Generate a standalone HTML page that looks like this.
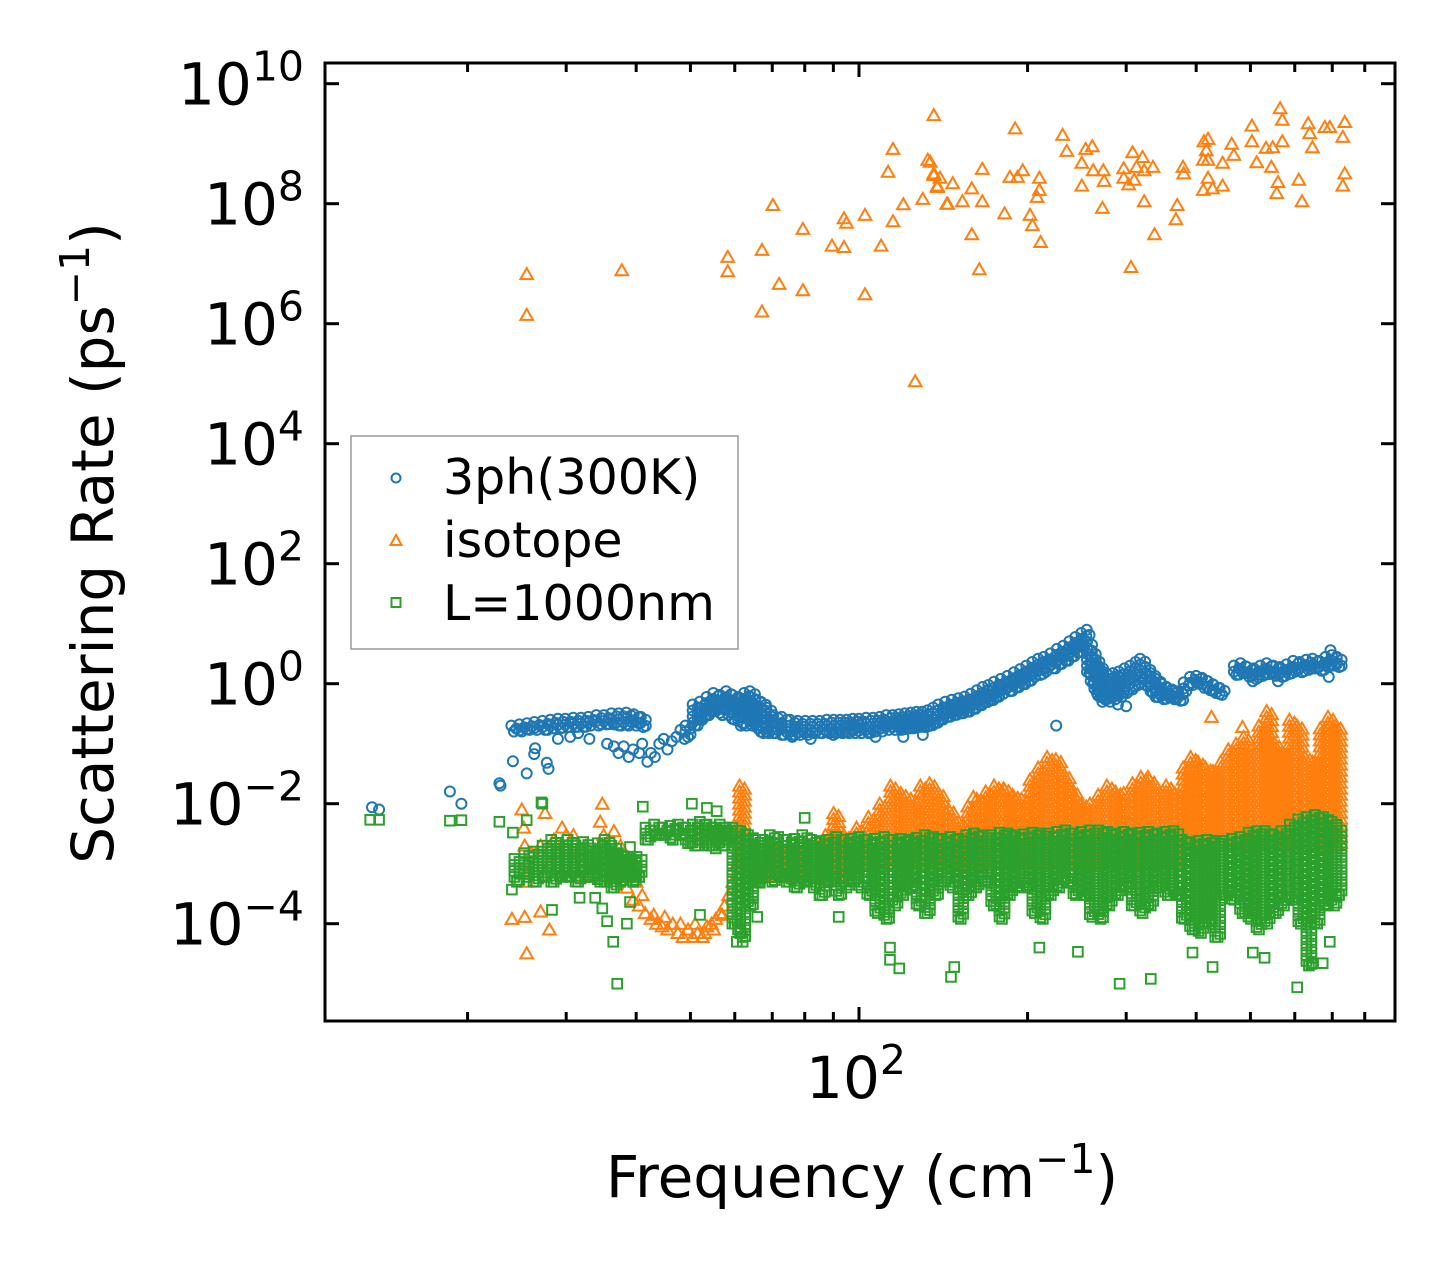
<!DOCTYPE html>
<html><head><meta charset="utf-8"><style>
html,body{margin:0;padding:0;background:#fff;}
svg{display:block;font-family:"DejaVu Sans","Liberation Sans",sans-serif;}
</style></head><body>
<svg id="chart" width="1455" height="1270" viewBox="0 0 1455 1270" xmlns="http://www.w3.org/2000/svg">
<rect x="0" y="0" width="1455" height="1270" fill="#fff"/>
<defs><clipPath id="plotclip"><rect x="325" y="63" width="1070" height="958"/></clipPath></defs>
<g id="blueLayer" clip-path="url(#plotclip)"></g>
<g id="orangeLayer" clip-path="url(#plotclip)"></g>
<g id="greenLayer" clip-path="url(#plotclip)"></g>
<g id="axes"></g>
<rect x="325" y="63" width="1070" height="958" fill="none" stroke="#000" stroke-width="3"/>
<text transform="translate(113,543) rotate(-90)" text-anchor="middle" font-size="58">Scattering Rate (ps<tspan dy="-24" font-size="41">−1</tspan><tspan dy="24">)</tspan></text>
<text x="862" y="1197" text-anchor="middle" font-size="58">Frequency (cm<tspan dy="-24" font-size="41">−1</tspan><tspan dy="24">)</tspan></text>
<g>
<rect x="351" y="436" width="387" height="213" fill="#fff" stroke="#999" stroke-width="1.5"/>
<circle cx="396" cy="478" r="4.5" fill="none" stroke="#1f77b4" stroke-width="2"/>
<text x="443" y="494" font-size="49">3ph(300K)</text>
<path d="M396,535 L401.5,545 L390.5,545 Z" fill="none" stroke="#ff7f0e" stroke-width="2"/>
<text x="443" y="557" font-size="49">isotope</text>
<rect x="391.5" y="598" width="9" height="9" fill="none" stroke="#2ca02c" stroke-width="2"/>
<text x="443" y="620" font-size="49">L=1000nm</text>
</g>
</svg>
<script>
// ---------- data ----------
const yTickExps = [-4, -2, 0, 2, 4, 6, 8, 10];
const xMajorTicks = [100];
const xMinorTicks = [20,30,40,50,60,70,80,90,200,300,400,500,600,700,800];

// 3ph isolated points
const blueFreq = [13.5,13.9,18.6,19.5,22.8,22.9,24.1,25.5,26.3,26.4,27.7,27.9,29,30.5,33,31.5,
 35.5,36.5,37.2,38,38.8,39.5,40.5,41,41.9,42.5,43.2,44,44.8,45.5,46.3,47.2,48,48.8,
 120,130,107,225,255,258,300,272,290,695,690,560,505,76,82,90];
const blueRate = [8.7e-3,8e-3,1.6e-2,1e-2,2.2e-2,2e-2,5.1e-2,3.2e-2,6.7e-2,8.4e-2,4.8e-2,3.8e-2,0.12,0.13,0.12,0.15,
 0.1,0.09,0.07,0.09,0.06,0.08,0.07,0.1,0.05,0.07,0.06,0.1,0.12,0.08,0.11,0.13,0.17,0.12,
 0.13,0.14,0.13,0.2,7.9,6.5,0.42,0.5,0.45,3.6,1.3,1.1,1.1,0.13,0.12,0.14];
// 3ph dense band (columns)
const blueBandFreq = [24.2,25,25.8,26.6,27.5,28.4,29.3,30.2,31.2,32.2,33.2,34.3,35.4,36.5,37.6,38.8,40,41.2,
 49.5,51,52.5,54,55.5,57,58.5,60,61.5,63,64.5,66,67.5,69,
 71,73.5,76,78.5,81,83.5,86,88.5,91,93.5,96,98.5,
 101,104,107,110,113,116,119,122,125,128,131,134,137,140,144,148,152,156,160,164,168,172,176,181,186,191,196,201,206,211,216,222,228,234,240,246,252,
 258,262,266,270,275,281,287,294,301,308,315,321,328,335,342,350,
 358,366,375,384,394,404,414,424,434,445,
 472,485,498,512,526,540,555,570,586,602,618,635,652,670,688,706,720];
const blueBandLow = [.16,.16,.17,.17,.17,.18,.18,.19,.19,.19,.2,.2,.21,.21,.2,.2,.2,.19,
 .13,.2,.25,.3,.35,.3,.3,.25,.2,.2,.2,.18,.15,.15,
 .15,.14,.14,.14,.14,.15,.15,.15,.15,.15,.15,.15,
 .15,.15,.16,.16,.17,.17,.17,.18,.18,.19,.19,.2,.22,.25,.28,.3,.32,.34,.38,.44,.49,.53,.6,.68,.75,.86,.98,1.1,1.3,1.4,1.6,1.8,2.1,2.4,2.8,3.3,4.0,
 1.5,1.0,.7,.6,.55,.5,.55,.6,.7,.8,.95,1.2,.9,.7,.6,.55,
 .6,.55,.52,.75,.95,1.0,.85,.78,.7,.65,
 1.4,1.5,1.3,1.2,1.35,1.45,1.35,1.3,1.45,1.6,1.55,1.7,1.8,1.65,1.9,2.0,1.9];
const blueBandHigh = [.2,.21,.22,.23,.24,.25,.26,.26,.27,.27,.28,.3,.3,.32,.32,.33,.31,.28,
 .2,.45,.5,.6,.7,.65,.75,.65,.6,.7,.75,.55,.5,.4,
 .3,.28,.25,.24,.24,.24,.24,.25,.25,.25,.25,.26,
 .26,.27,.27,.28,.3,.3,.31,.32,.33,.34,.34,.36,.4,.45,.5,.54,.57,.61,.68,.78,.88,.95,1.08,1.2,1.35,1.55,1.75,2.0,2.3,2.6,2.8,3.2,3.8,4.3,5.1,6.0,7.0,
 5.0,3.5,2.6,2.0,1.6,1.4,1.5,1.6,1.8,2.0,2.3,2.6,1.9,1.5,1.2,1.0,
 .85,.8,.75,1.05,1.3,1.35,1.25,1.1,.95,.85,
 2.0,2.2,1.9,1.8,2.0,2.2,2.0,1.9,2.1,2.4,2.3,2.5,2.6,2.4,2.8,3.0,2.8];

// isotope isolated points
const orangeFreq = [25.5,25.5,37.7,58.3,58.3,67.1,67.1,70.2,72,79.4,79.4,89.5,94,95,94,102.5,102.5,109.5,112.7,115,115,120,126,130,132.7,136,136,138,139.5,143.5,
 134,136,138,144,147,153,159,166,166,159,164,182,186,190,192,196,202,204,210,210,208,211,231,235,250,254,261,250,262,273,274,272,
 297,297,303,308,321,313,323,335,310,323,306,337,370,368,379,380,413,420,417,412,420,412,420,428,446,446,463,467,503,503,513,533,548,545,560,557,565,570,570,618,610,634,638,645,679,693,731,737,737,731,
 25,25.2,25.3,25.4,25.5,25.3,25.5,28,27,24,
 26,27,28,29,30,30.9,31.5,32.5,33.5,34.8,34.5,35,36,37,37.5,38,39,40,41,27.5,29.5,28.5,31.8,33,36.5,38.5,39.5,40.5,41.5,42.5,43.5,44.5,45.5,46.5,47.5,48.5,49.5,50.5,51.5,52.5,53.5,54.5,55.5,56.5,57.5,58.5,59.5,60.5,
 45,48,51,53,55,57,43,426,484,328,160,182];
const orangeRate = [6.7e6,1.4e6,7.8e6,1.3e7,7.5e6,1.7e7,1.6e6,9.5e7,4.6e6,3.8e7,3.6e6,2e7,5.7e7,4.8e7,1.9e7,6.5e7,3.1e6,2e7,3.4e8,8.2e8,5.1e7,9.8e7,1.1e5,1.2e8,5.4e8,3e9,3e8,2e8,2.7e8,1e8,
 5e8,3.2e8,1.9e8,1e8,2.2e8,1.1e8,1.8e8,3.8e8,1.1e8,3.1e7,8.1e6,6.9e7,2.8e8,1.8e9,2.8e8,3.6e8,6.5e7,4.4e7,2.7e8,1.7e8,1.3e8,2.3e7,1.4e9,7.6e8,4.8e8,8.2e8,9.1e8,2e8,3.6e8,3.6e8,2.4e8,8.5e7,
 3.9e8,2.7e8,2.1e8,7.2e8,6e8,4.1e8,3.6e8,4.1e8,2.5e8,1.1e8,8.8e6,3.1e7,9.5e7,5.5e7,4.1e8,3.2e8,1.1e9,1.2e9,7.8e8,5.4e8,5.4e8,1.7e8,2.7e8,1.8e8,4.8e8,2e8,1e9,6.5e8,2e9,1.1e9,4.9e8,8.5e8,8.7e8,4.1e8,2.3e8,1.5e8,3.9e9,2.5e9,1.1e9,1.1e8,2.5e8,2.2e9,1.5e9,8.7e8,1.9e9,1.9e9,1.3e9,2.3e9,3.2e8,2e8,
 8e-3,4e-3,2e-3,1e-3,5e-4,1.3e-4,3.2e-5,8e-5,1.6e-4,1.2e-4,
 1.5e-3,2e-3,1e-3,1.5e-3,3e-3,3e-3,1.5e-3,2e-3,1e-3,1e-2,5e-3,3e-3,1.5e-3,6e-4,2e-3,1e-3,7e-4,5e-4,3e-4,7e-3,4e-3,2.5e-3,6e-4,8e-4,3.5e-3,4e-4,2.5e-4,2e-4,1.5e-4,1.2e-4,1e-4,9e-5,8e-5,1e-4,7e-5,6e-5,8e-5,6e-5,7e-5,6e-5,9e-5,1e-4,1.2e-4,1.5e-4,2e-4,3e-4,5e-4,1e-3,
 1.3e-4,1e-4,1e-4,7e-5,8e-5,1.4e-4,1.4e-4,0.28,0.19,0.028,0.013,0.017];
// isotope dense band (columns)
const orangeBandFreq = [61.8,64,67,70,73,76,79,82,85,88,91,95,100,105,110,115,120,125,130,135,140,146,152,158,164,170,176,183,190,197,204,211,219,227,235,243,252,261,270,280,290,300,311,322,333,345,357,370,383,395,407,420,433,447,461,476,491,507,523,540,557,575,593,612,632,652,673,695,717];
const orangeBandTop = [2e-2,2e-3,1.5e-3,2e-3,1.8e-3,2e-3,1.5e-3,2e-3,2e-3,3e-3,7e-3,3e-3,4e-3,6e-3,1e-2,2e-2,1.5e-2,1.2e-2,2e-2,2.2e-2,1.5e-2,8e-3,5e-3,9e-3,1.2e-2,1.6e-2,2e-2,1.8e-2,1.4e-2,1.2e-2,2.5e-2,4e-2,6e-2,5.5e-2,3e-2,1.6e-2,1e-2,1e-2,1.4e-2,2e-2,1.6e-2,1.5e-2,2.2e-2,2.8e-2,2.5e-2,1.8e-2,2e-2,1.5e-2,4e-2,6e-2,5e-2,4e-2,3.5e-2,5e-2,8e-2,1e-1,1.3e-1,8e-2,2e-1,3.5e-1,1e-1,7e-2,2.5e-1,2e-1,6e-2,5e-2,1.8e-1,2.8e-1,2e-1];
const orangeBandLow = [1e-3,6e-4,6e-4,6e-4,6e-4,6e-4,6e-4,6e-4,6e-4,6e-4,6e-4,8e-4,1e-3,1e-3,1e-3,1e-3,1e-3,1e-3,1e-3,1e-3,1e-3,1e-3,1e-3,1e-3,1e-3,1e-3,1e-3,1e-3,1e-3,1e-3,1e-3,1e-3,1e-3,1e-3,1e-3,1e-3,1e-3,1e-3,1e-3,1e-3,1e-3,1e-3,1e-3,1e-3,1e-3,1e-3,1e-3,1e-3,2e-3,2e-3,2e-3,2e-3,2e-3,2e-3,2e-3,2e-3,2e-3,2e-3,2e-3,2e-3,2e-3,2e-3,2e-3,2e-3,2e-3,2e-3,2e-3,2e-3,2e-3];

// boundary isolated points
const greenFreq = [13.4,13.9,18.6,19.5,22.8,24.1,25.5,27.1,27.2,36.4,37,35.5,41.1,50.3,53.5,55.7,52,62,61.5,65.8,66.5,80,85,92,39,39,38.5,31.7,28.3,24,34.8,33.8,
 113.6,113.6,118,148,146,210,246,292,332,394,428,505,530,606,646,673,693,60.5,60.8];
const greenRate = [5.4e-3,5.4e-3,5.2e-3,5.3e-3,5e-3,3.3e-3,5.3e-3,1.05e-2,1e-2,5e-5,1e-5,1.1e-4,8.9e-3,1e-2,8.5e-3,7.5e-3,1.4e-4,5e-5,7e-5,1.3e-4,4.8e-4,5.8e-3,3e-4,1.3e-4,1.9e-3,2.3e-4,1e-4,2.7e-4,1.7e-4,3.7e-4,1.8e-4,2.7e-4,
 4e-5,2.5e-5,1.8e-5,1.9e-5,1.3e-5,4e-5,3.4e-5,1e-5,1.2e-5,3.3e-5,1.9e-5,3.3e-5,2.7e-5,8.7e-6,2.2e-5,2.2e-5,5e-5,5e-5,8e-5];
// boundary dense band (columns)
const greenBandFreq = [24.5,25.5,26.5,27.5,28.5,29.5,30.5,31.5,32.5,33.5,34.5,35.5,36.5,37.5,38.5,39.5,40.5,
 42,43.5,45,46.5,48,49.5,51,52.5,54,55.5,57,58.5,
 60,62,64,66,68,70,72.5,75,77.5,80,83,86,89,92,95,98,101,104.5,108,112,116,120,124,128,132.5,137,142,147,152,157,162,168,174,180,186,192,199,206,213,220,228,236,244,252,261,270,280,290,300,310,321,332,344,356,368,381,394,408,422,437,452,468,484,501,518,536,555,574,594,615,636,658,681,705,720];
const greenBandHigh = [1.2e-3,1.5e-3,1.6e-3,2e-3,2.5e-3,2e-3,2.5e-3,2e-3,2.3e-3,1.8e-3,2.2e-3,2.5e-3,2e-3,1.5e-3,1.3e-3,1.2e-3,1.3e-3,
 4e-3,4.5e-3,4e-3,4.3e-3,4.5e-3,4e-3,4.5e-3,5e-3,4.5e-3,4e-3,4.5e-3,4e-3,
 4e-3,3.5e-3,3e-3,2.5e-3,2.5e-3,3e-3,2.8e-3,2.5e-3,2.6e-3,3e-3,2.5e-3,2.4e-3,2.5e-3,2.8e-3,2.5e-3,2.6e-3,2.8e-3,2.5e-3,2.6e-3,2.8e-3,2.5e-3,2.6e-3,2.5e-3,2.7e-3,3e-3,2.8e-3,2.6e-3,2.8e-3,2.6e-3,3e-3,3.2e-3,3e-3,3e-3,3.3e-3,3.2e-3,3e-3,3.1e-3,3.3e-3,3.2e-3,3.2e-3,3.4e-3,3.6e-3,3.2e-3,3.4e-3,3.6e-3,3.6e-3,3.4e-3,3.2e-3,3.4e-3,3.2e-3,3.3e-3,3.4e-3,3.2e-3,3.4e-3,3.5e-3,2.5e-3,2.3e-3,2.4e-3,2.5e-3,2.4e-3,2.4e-3,2.6e-3,2.8e-3,3.3e-3,3.5e-3,3.5e-3,3e-3,3.5e-3,4.5e-3,5.5e-3,6e-3,6.5e-3,6e-3,5e-3,4e-3];
const greenBandLow = [5e-4,6e-4,5e-4,6e-4,5e-4,6e-4,6e-4,5e-4,6e-4,6e-4,5e-4,5e-4,4e-4,5e-4,6e-4,5e-4,6e-4,
 2.5e-3,3e-3,3e-3,2.5e-3,3e-3,2.2e-3,2e-3,2.5e-3,2e-3,1.8e-3,2e-3,2.5e-3,
 1e-4,6e-5,2e-4,5e-4,6e-4,5e-4,6e-4,5e-4,4e-4,5e-4,4e-4,3e-4,5e-4,3e-4,4e-4,5e-4,4e-4,3e-4,1.5e-4,1.2e-4,2e-4,3e-4,4e-4,2e-4,1.5e-4,3e-4,5e-4,4e-4,1.2e-4,3e-4,4e-4,5e-4,2e-4,1.2e-4,3e-4,4e-4,4e-4,1.5e-4,1.2e-4,3e-4,4e-4,5e-4,3e-4,3e-4,1.3e-4,1.2e-4,2e-4,3e-4,4e-4,2e-4,1.5e-4,2e-4,4e-4,3e-4,3e-4,1.2e-4,8e-5,7e-5,1e-4,6e-5,3e-4,2.5e-4,1.5e-4,1.2e-4,8e-5,1e-4,1.5e-4,2e-4,2.5e-4,1e-4,2e-5,1e-4,2e-4,2e-4,3e-4];

// ---------- scales ----------
const NS = 'http://www.w3.org/2000/svg';
function xScale(f){ return 859 + 560*(Math.log10(f) - 2); }
function yScale(r){ return 683.7 - 60*Math.log10(r); }

function circleMark(g, x, y){
  const c = document.createElementNS(NS,'circle');
  c.setAttribute('cx', x.toFixed(1)); c.setAttribute('cy', y.toFixed(1)); c.setAttribute('r', 5);
  c.setAttribute('fill','none'); c.setAttribute('stroke','#1f77b4'); c.setAttribute('stroke-width','2');
  
  
  g.appendChild(c);
}
function triMark(g, x, y){
  const p = document.createElementNS(NS,'path');
  p.setAttribute('d', `M${x.toFixed(1)},${(y-6).toFixed(1)} L${(x+6.3).toFixed(1)},${(y+5).toFixed(1)} L${(x-6.3).toFixed(1)},${(y+5).toFixed(1)} Z`);
  p.setAttribute('fill','none'); p.setAttribute('stroke','#ff7f0e'); p.setAttribute('stroke-width','2');
  
  
  g.appendChild(p);
}
function sqMark(g, x, y){
  const r = document.createElementNS(NS,'rect');
  r.setAttribute('x', (x-4.8).toFixed(1)); r.setAttribute('y', (y-4.8).toFixed(1));
  r.setAttribute('width', 9.6); r.setAttribute('height', 9.6);
  r.setAttribute('fill','none'); r.setAttribute('stroke','#2ca02c'); r.setAttribute('stroke-width','2');
  
  
  g.appendChild(r);
}
function drawBand(g, freqs, lows, highs, mark, step){
  for (let i = 0; i < freqs.length; i++){
    const x = xScale(freqs[i]);
    const yTop = yScale(highs[i]), yBot = yScale(lows[i]);
    let k = 0;
    for (let y = yTop; y <= yBot + 0.1; y += step){ mark(g, x + ((k % 2) ? 2.5 : -2.5), y); k++; }
    mark(g, x, yBot);
  }
}
function drawPoints(g, freqs, rates, mark){
  for (let i = 0; i < freqs.length; i++) mark(g, xScale(freqs[i]), yScale(rates[i]));
}

const blueG = document.getElementById('blueLayer');
const orangeG = document.getElementById('orangeLayer');
const greenG = document.getElementById('greenLayer');
drawBand(blueG, blueBandFreq, blueBandLow, blueBandHigh, circleMark, 3);
drawPoints(blueG, blueFreq, blueRate, circleMark);
drawBand(orangeG, orangeBandFreq, orangeBandLow, orangeBandTop, triMark, 3);
drawPoints(orangeG, orangeFreq, orangeRate, triMark);
drawBand(greenG, greenBandFreq, greenBandLow, greenBandHigh, sqMark, 3);
drawPoints(greenG, greenFreq, greenRate, sqMark);

// ---------- axes ----------
const axes = document.getElementById('axes');
function line(x1,y1,x2,y2,name){
  const l = document.createElementNS(NS,'line');
  l.setAttribute('x1',x1); l.setAttribute('y1',y1); l.setAttribute('x2',x2); l.setAttribute('y2',y2);
  l.setAttribute('stroke','#000'); l.setAttribute('stroke-width','3');
  
  
  axes.appendChild(l);
}
yTickExps.forEach(e => {
  const y = yScale(Math.pow(10, e));
  line(325, y, 339, y, 'y-tick');
  line(1381, y, 1395, y, 'y-tick-right');
  const t = document.createElementNS(NS,'text');
  t.setAttribute('x', 304); t.setAttribute('y', (y + 21).toFixed(1));
  t.setAttribute('text-anchor','end'); t.setAttribute('font-size','58');
  
  
  t.textContent = '10';
  const s = document.createElementNS(NS,'tspan');
  s.setAttribute('dy','-24'); s.setAttribute('font-size','41');
  s.textContent = e < 0 ? '\u2212' + Math.abs(e) : String(e);
  t.appendChild(s);
  axes.appendChild(t);
});
xMajorTicks.forEach(f => {
  const x = xScale(f);
  line(x, 1021, x, 1007, 'x-major-tick');
  line(x, 63, x, 77, 'x-major-tick-top');
  const t = document.createElementNS(NS,'text');
  t.setAttribute('x', (x - 3).toFixed(1)); t.setAttribute('y', 1098);
  t.setAttribute('text-anchor','middle'); t.setAttribute('font-size','58');
  
  
  t.textContent = '10';
  const s = document.createElementNS(NS,'tspan');
  s.setAttribute('dy','-24'); s.setAttribute('font-size','41');
  s.textContent = String(Math.round(Math.log10(f)));
  t.appendChild(s);
  axes.appendChild(t);
});
xMinorTicks.forEach(f => {
  const x = xScale(f);
  line(x, 1021, x, 1012, 'x-minor-tick');
  line(x, 63, x, 72, 'x-minor-tick-top');
});
</script>
</body></html>
